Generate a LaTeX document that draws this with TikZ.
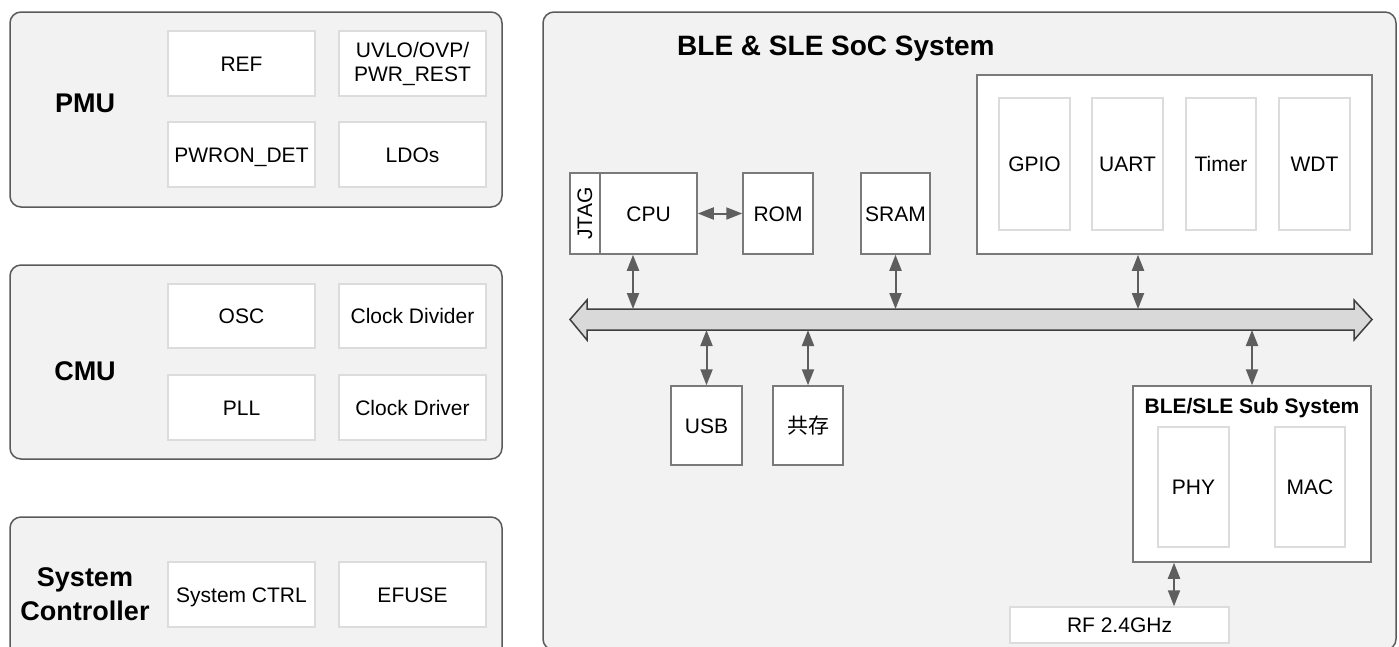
\documentclass[tikz,border=0pt]{standalone}
\usepackage{fontspec}
\setmainfont{Liberation Sans}
\newfontfamily\cjk{Noto Sans CJK SC}
\usetikzlibrary{arrows.meta,calc}
\definecolor{panelfill}{HTML}{F2F2F2}
\definecolor{panelline}{HTML}{5A5A5A}
\definecolor{boxline}{HTML}{7A7A7A}
\definecolor{lightline}{HTML}{DCDCDC}
\definecolor{busfill}{HTML}{D9D9D9}
\definecolor{busline}{HTML}{3F3F3F}
\definecolor{arrowc}{HTML}{5E5E5E}
\tikzset{
  panel/.style={draw=panelline,fill=panelfill,line width=1.5pt,rounded corners=11pt},
  wbox/.style={draw=lightline,fill=white,line width=1.5pt,inner sep=0pt,align=center,font=\fontsize{21}{24}\selectfont},
  sbox/.style={draw=boxline,fill=white,line width=1.5pt,inner sep=0pt,align=center,font=\fontsize{21}{24}\selectfont},
  oneline/.style={text height=15pt,text depth=0pt},
  biglabel/.style={font=\bfseries\fontsize{27}{34}\selectfont,align=center,inner sep=0pt},
  conn/.style={draw=arrowc,line width=2pt,{Triangle[length=16pt,width=12pt]}-{Triangle[length=16pt,width=12pt]}}
}
\begin{document}
\begin{tikzpicture}[x=1pt,y=-1pt]
\useasboundingbox (0,0) rectangle (1399,646);
\clip (0,0) rectangle (1399,646);
\fill[white] (0,0) rectangle (1399,646);

% ---------- left panels ----------
\draw[panel] (10,12) rectangle (502,207);
\draw[panel] (10,265) rectangle (502,459);
\draw[panel] (10,517) rectangle (502,662);

\node[biglabel,oneline] (pmu) at (85,105) {PMU};
\node[wbox,oneline,minimum width=147pt,minimum height=65pt] (ref) at (241.5,63.5) {REF};
\node[wbox,minimum width=147pt,minimum height=65pt] (uvlo) at (412.5,63.5) {UVLO/OVP/\\PWR\_REST};
\node[wbox,oneline,minimum width=147pt,minimum height=65pt] (pwron) at (241.5,154.5) {PWRON\_DET};
\node[wbox,oneline,minimum width=147pt,minimum height=65pt] (ldo) at (412.5,154.5) {LDOs};

\node[biglabel,oneline] (cmu) at (85,373) {CMU};
\node[wbox,oneline,minimum width=147pt,minimum height=64pt] (osc) at (241.5,316) {OSC};
\node[wbox,oneline,minimum width=147pt,minimum height=64pt] (cdiv) at (412.5,316) {Clock Divider};
\node[wbox,oneline,minimum width=147pt,minimum height=65pt] (pll) at (241.5,407.5) {PLL};
\node[wbox,oneline,minimum width=147pt,minimum height=65pt] (cdrv) at (412.5,407.5) {Clock Driver};

\node[biglabel] (sysc) at (85,594) {System\\Controller};
\node[wbox,oneline,minimum width=147pt,minimum height=65pt] (sctrl) at (241.5,594.5) {System CTRL};
\node[wbox,oneline,minimum width=147pt,minimum height=65pt] (efuse) at (412.5,594.5) {EFUSE};

% ---------- SoC panel ----------
\draw[panel] (543,12) rectangle (1396,650);
\node[anchor=west,inner sep=0pt,oneline,font=\bfseries\fontsize{28}{32}\selectfont,text height=20pt] (title) at (677,45) {BLE \& SLE SoC System};

% peripherals
\node[sbox,minimum width=395pt,minimum height=179pt] (periph) at (1174.5,164.5) {};
\node[wbox,oneline,minimum width=71pt,minimum height=132pt] (gpio) at (1034.5,164) {GPIO};
\node[wbox,oneline,minimum width=71pt,minimum height=132pt] (uart) at (1127.5,164) {UART};
\node[wbox,oneline,minimum width=70pt,minimum height=132pt] (timer) at (1221,164) {Timer};
\node[wbox,oneline,minimum width=71pt,minimum height=132pt] (wdt) at (1314.5,164) {WDT};

% CPU group
\node[sbox,minimum width=30pt,minimum height=81pt] (jtag) at (585,213.5) {\rotatebox{90}{JTAG}};
\node[sbox,oneline,minimum width=97pt,minimum height=81pt] (cpu) at (648.5,213.5) {CPU};
\node[sbox,oneline,minimum width=70pt,minimum height=81pt] (rom) at (778,213.5) {ROM};
\node[sbox,oneline,minimum width=69pt,minimum height=81pt] (sram) at (895.5,213.5) {SRAM};

% bus
\draw[draw=busline,fill=busfill,line width=1.5pt]
  (570,319.5) -- (587,300) -- (587,309) -- (1354,309) -- (1354,300) -- (1372,319.5)
  -- (1354,340) -- (1354,330) -- (587,330) -- (587,340) -- cycle;
\coordinate (bustop) at (0,309);
\coordinate (busbot) at (0,330);

% lower boxes
\node[sbox,oneline,minimum width=71pt,minimum height=79pt] (usb) at (706.5,425.5) {USB};
\node[sbox,oneline,minimum width=70pt,minimum height=79pt] (coex) at (808,425.5) {\cjk 共存};

% BLE/SLE sub system
\node[sbox,minimum width=238pt,minimum height=176pt] (sub) at (1252,474) {};
\node[inner sep=0pt,oneline,font=\bfseries\fontsize{21}{24}\selectfont] (subtitle) at (1252,406) {BLE/SLE Sub System};
\node[wbox,oneline,minimum width=71pt,minimum height=120pt] (phy) at (1193.5,487) {PHY};
\node[wbox,oneline,minimum width=70pt,minimum height=120pt] (mac) at (1310,487) {MAC};
\node[wbox,oneline,minimum width=219pt,minimum height=36pt] (rf) at (1119.5,625) {RF 2.4GHz};

% connectors
\draw[conn] (cpu.east) -- (rom.west);
\draw[conn] ([xshift=-15.5pt]cpu.south) -- ([xshift=-15.5pt]cpu.south |- bustop);
\draw[conn] (sram.south) -- (sram.south |- bustop);
\draw[conn] ([xshift=-36.5pt]periph.south) -- ([xshift=-36.5pt]periph.south |- bustop);
\draw[conn] (usb.north) -- (usb.north |- busbot);
\draw[conn] (coex.north) -- (coex.north |- busbot);
\draw[conn] (sub.north) -- (sub.north |- busbot);
\draw[conn] ([xshift=-78pt]sub.south) -- ([xshift=54.5pt]rf.north);
\end{tikzpicture}
\end{document}
